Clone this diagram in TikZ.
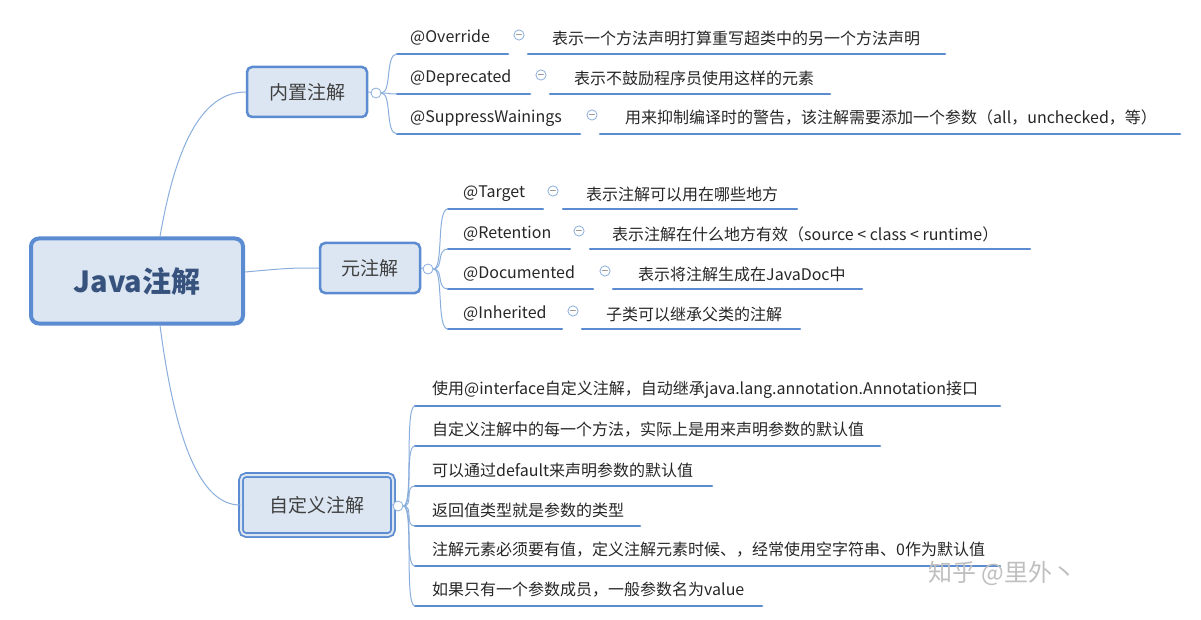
\documentclass[tikz,border=0pt]{standalone}
\usepackage{fontspec}
\setmainfont{Noto Sans CJK SC}
\usetikzlibrary{positioning}
\definecolor{boxfill}{HTML}{DCE6F2}
\definecolor{boxline}{HTML}{5B8BD0}
\definecolor{thinline}{HTML}{8AAEDC}
\begin{document}
\begin{tikzpicture}[x=1pt, y=-1pt, line cap=round]
	\tikzstyle{topic}=[draw=boxline, fill=boxfill, rounded corners=5pt, line width=2.5pt, inner sep=0pt, font=\fontsize{19}{22}\selectfont, text=black!75]
	\tikzstyle{item}=[anchor=west, inner sep=0pt, font=\fontsize{16}{18}\selectfont, text=black!85]
	\tikzstyle{uline}=[draw=boxline, line width=2.5pt]
	\tikzstyle{link}=[draw=thinline, line width=1pt]
	\tikzstyle{fold}=[draw=thinline, fill=white, circle, minimum size=10pt, inner sep=0pt, line width=0.8pt]
	\useasboundingbox (0,0) rectangle (1201,620);
	% % Nodes
	% root
	\node[topic, line width=4pt, rounded corners=8pt, minimum width=212pt, minimum height=85pt,
		font=\fontsize{29}{32}\selectfont\bfseries, text=boxline!60!black] (root) at (137,281) {Java注解};
	% topics
	\node[topic, minimum width=120pt, minimum height=50pt] (builtin) at (307,92) {内置注解};
	\node[topic, minimum width=100pt, minimum height=50pt] (meta) at (370,268) {元注解};
	\node[topic, minimum width=152pt, minimum height=60pt, double=boxfill, double distance=2pt, line width=1.8pt] (custom) at (317,505) {自定义注解};
	\node[fold] (fbuiltin) at (376,93) {};
	\node[fold] (fmeta) at (428,269) {};
	\node[fold] (fcustom) at (398,506) {};
	% % Connectors
	\draw[link] (root.north) ++(23,0) .. controls (175,150) and (200,92) .. (builtin.west);
	\draw[link] (root.east) ++(0,-9) .. controls (290,268) .. (meta.west);
	\draw[link] (root.south) ++(23,0) .. controls (175,440) and (200,505) .. (custom.west);
	\draw[link] (builtin.east) -- (fbuiltin);
	\draw[link] (meta.east) -- (fmeta);
	\draw[link] (custom.east) -- (fcustom);
	% built-in annotations
	\foreach \y/\key/\ke/\fx/\de/\txt [count=\i] in {
		36/@Override/508/519/945/表示一个方法声明打算重写超类中的另一个方法声明,
		76/@Deprecated/530/541/830/表示不鼓励程序员使用这样的元素,
		116/@SuppressWainings/580/592/1180/用来抑制编译时的警告，该注解需要添加一个参数（all，unchecked，等）}{
		\coordinate (b\i) at (397,\y+18);
		\node[item] (bk\i) at (410,\y+2) {\key};
		\node[fold, minimum size=9pt] (bf\i) at (\fx,\y-1) {$-$};
		\node[item] (bd\i) at (\fx+33,\y+2) {\txt};
		\draw[uline] (b\i) -- (\ke,\y+18);
		\draw[uline] (\ke+20,\y+18) -- (\de,\y+18);
		\draw[link] (fbuiltin) .. controls (392,93) and (385,\y+18) .. (b\i);
	}
	% meta annotations
	\foreach \y/\key/\ke/\fx/\de/\txt [count=\i] in {
		192/@Target/543/553/797/表示注解可以用在哪些地方,
		232/@Retention/570/579/1030/表示注解在什么地方有效（source < class < runtime）,
		272/@Documented/593/605/862/表示将注解生成在JavaDoc中,
		312/@Inherited/562/573/800/子类可以继承父类的注解}{
		\coordinate (m\i) at (448,\y+17);
		\node[item] (mk\i) at (463,\y+2) {\key};
		\node[fold, minimum size=9pt] (mf\i) at (\fx,\y-1) {$-$};
		\node[item] (md\i) at (\fx+33,\y+2) {\txt};
		\draw[uline] (m\i) -- (\ke,\y+17);
		\draw[uline] (\ke+20,\y+17) -- (\de,\y+17);
		\draw[link] (fmeta) .. controls (444,269) and (436,\y+17) .. (m\i);
	}
	% custom annotations
	\foreach \y/\de/\txt [count=\i] in {
		389/1000/使用@interface自定义注解，自动继承java.lang.annotation.Annotation接口,
		429/880/自定义注解中的每一个方法，实际上是用来声明参数的默认值,
		469/712/可以通过default来声明参数的默认值,
		509/640/返回值类型就是参数的类型,
		549/1000/注解元素必须要有值，定义注解元素时候、，经常使用空字符串、0作为默认值,
		589/762/如果只有一个参数成员，一般参数名为value}{
		\coordinate (c\i) at (415,\y+17);
		\node[item] (ck\i) at (432,\y+1) {\txt};
		\draw[uline] (c\i) -- (\de,\y+17);
		\draw[link] (fcustom) .. controls (414,506) and (404,\y+17) .. (c\i);
	}
	% watermark
	\node[anchor=west, text=black!25, font=\fontsize{24}{28}\selectfont] (mark) at (925,573) {知乎 @里外丶};
\end{tikzpicture}
\end{document}
